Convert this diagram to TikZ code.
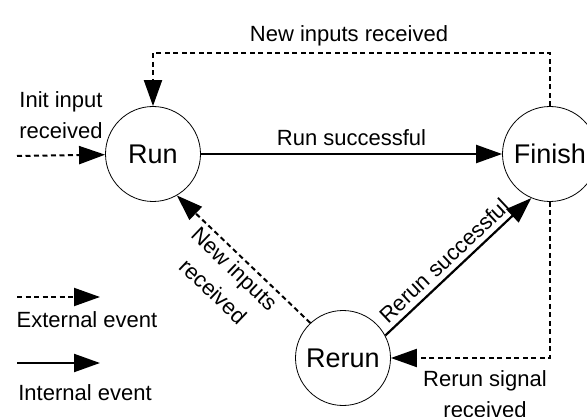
\documentclass[tikz,border=0pt]{standalone}
\usepackage{fontspec}
\setmainfont{Liberation Sans}
\usetikzlibrary{arrows.meta, positioning}
\tikzset{
  state/.style={circle,draw,line width=0.8pt,minimum size=95pt,inner sep=0pt,font=\fontsize{27}{30}\selectfont},
  lbl/.style={align=center,font=\fontsize{22}{31}\selectfont,inner sep=2pt},
  extline/.style={-{Triangle[length=26pt,width=18pt]},line width=2pt,dash pattern=on 5pt off 3.5pt},
  intline/.style={-{Triangle[length=26pt,width=18pt]},line width=2.2pt}
}

\begin{document}
\begin{tikzpicture}[x=1pt,y=-1pt]
\useasboundingbox (0,0) rectangle (587,417);
\node[state] (run) at (153,154) {Run};
\node[state] (finish) at (550,154) {Finish};
\node[state] (rerun) at (343,358) {Rerun};
% start and normal run
\coordinate (init) at (17,156);
\draw[extline] (init) -- (run);
\node[lbl] (initlbl) at (61,115) {Init input\\received};
\draw[intline] (run) -- node[lbl,above=5pt] (runok) {Run successful} (finish);
% new inputs loop over the top
\coordinate (loop) at (349,53);
\draw[extline] (finish.north) |- (loop) -| (run.north);
\node[lbl,above=5pt] (newtop) at (loop) {New inputs received};
% rerun branch
\draw[extline] (finish.south) |- (rerun.east);
\node[lbl] (rerunsig) at (485,394) {Rerun signal\\received};
\draw[intline] (rerun.28) -- node[lbl,sloped,above=3pt,pos=0.47] (rerunok) {Rerun successful} (finish.247);
\draw[extline] (rerun.133) -- node[lbl,sloped,below=2pt] (newin) {New inputs\\received} (run.300);
% legend
\coordinate (extA) at (17,297);
\coordinate (extB) at (100,297);
\draw[extline] (extA) -- (extB);
\node[lbl] (extlbl) at (87,320) {External event};
\coordinate (intA) at (17,363);
\coordinate (intB) at (100,363);
\draw[intline] (intA) -- (intB);
\node[lbl] (intlbl) at (85,393) {Internal event};
\end{tikzpicture}
\end{document}
